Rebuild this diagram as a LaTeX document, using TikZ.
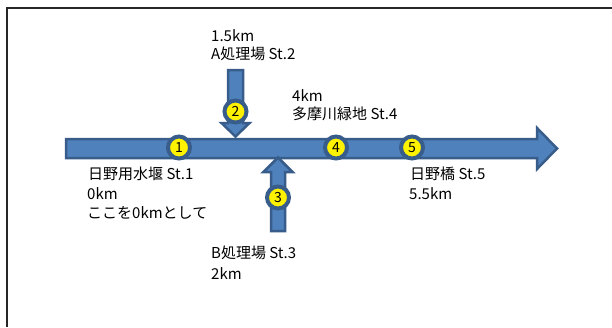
\documentclass[tikz,border=0pt]{standalone}
\usepackage{fontspec}
\setmainfont{Noto Sans CJK JP}
\definecolor{arrfill}{HTML}{4F81BD}
\definecolor{arrline}{HTML}{385D8A}
\begin{document}
\begin{tikzpicture}[x=1pt,y=-1pt,
  flowarrow/.style={fill=arrfill,draw=arrline,line width=2.5pt,line join=miter},
  station/.style={circle,fill=yellow,draw=arrline,line width=4pt,minimum size=22pt,inner sep=0pt,font=\fontsize{14}{14}\selectfont},
  lbl/.style={anchor=base west,inner sep=0pt,font=\fontsize{15}{15}\selectfont}]
\useasboundingbox (0,0) rectangle (612,327);
\fill[white] (0,0) rectangle (612,327);
% frame
\draw[line width=1.6pt,black!85] (7,327) -- (7,8) -- (612,8);
% main river arrow
\draw[flowarrow] (66,139) -- (537,139) -- (537,128) -- (557,148.5) -- (537,169) -- (537,158) -- (66,158) -- cycle;
% inflow A (down)
\draw[flowarrow] (228,70) -- (243,70) -- (243,123) -- (249.5,123) -- (235.5,136.5) -- (221.5,123) -- (228,123) -- cycle;
% inflow B (up)
\draw[flowarrow] (271,231) -- (285,231) -- (285,172) -- (292.5,172) -- (278,157.5) -- (263.5,172) -- (271,172) -- cycle;
% stations
\node[station] (s1) at (179,147.5) {1};
\node[station] (s2) at (235.5,111.5) {2};
\node[station] (s3) at (278,197.5) {3};
\node[station] (s4) at (336,147.5) {4};
\node[station] (s5) at (412,147.5) {5};
% labels
\node[lbl] (t2a) at (211,41.5) {1.5km};
\node[lbl] (t2b) at (211,59.5) {A処理場 St.2};
\node[lbl] (t4a) at (292,101) {4km};
\node[lbl] (t4b) at (292,119.5) {多摩川緑地 St.4};
\node[lbl] (t1a) at (88,179.5) {日野用水堰 St.1};
\node[lbl] (t1b) at (87,199.5) {0km};
\node[lbl] (t1c) at (87,218.5) {ここを0kmとして};
\node[lbl] (t5a) at (410,179.5) {日野橋 St.5};
\node[lbl] (t5b) at (409,199.5) {5.5km};
\node[lbl] (t3a) at (211,258.5) {B処理場 St.3};
\node[lbl] (t3b) at (211,279.5) {2km};
\end{tikzpicture}
\end{document}
